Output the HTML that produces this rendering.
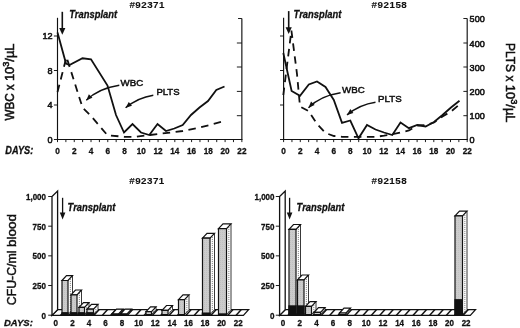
<!DOCTYPE html>
<html lang="en">
<head>
<meta charset="utf-8">
<title>Figure</title>
<style>
html,body{margin:0;padding:0;background:#fff;}
body{width:520px;height:328px;overflow:hidden;}
svg{display:block;}
svg text{font-family:'Liberation Sans', sans-serif;fill:#111;}
</style>
</head>
<body>
<svg width="520" height="328" viewBox="0 0 520 328">
<defs>
<pattern id="front" width="2" height="2" patternUnits="userSpaceOnUse"><rect width="2" height="2" fill="#cccccc"/><rect width="1" height="1" fill="#c0c0c0"/></pattern>
<pattern id="side" width="2" height="2" patternUnits="userSpaceOnUse"><rect width="2" height="2" fill="#fff"/><rect x="0.5" y="0" width="0.8" height="1" fill="#aaa"/></pattern>
</defs>
<rect width="520" height="328" fill="#fff"/>
<text x="129.4" y="8.1" font-size="9.8" text-anchor="start" font-weight="bold" textLength="35.0" lengthAdjust="spacing" stroke="#111" stroke-width="0.1" >#92371</text>
<line x1="57.5" y1="17.8" x2="57.5" y2="139.5" stroke="#111" stroke-width="1.15" />
<line x1="56.9" y1="139.5" x2="242.46" y2="139.5" stroke="#111" stroke-width="1.15" />
<line x1="241.86" y1="18.5" x2="241.86" y2="139.5" stroke="#111" stroke-width="1.15" />
<line x1="53.9" y1="36" x2="57.5" y2="36" stroke="#111" stroke-width="0.95" />
<text x="52.5" y="39.3" font-size="9.1" text-anchor="end" stroke="#111" stroke-width="0.55" >12</text>
<line x1="53.9" y1="70.5" x2="57.5" y2="70.5" stroke="#111" stroke-width="0.95" />
<text x="52.5" y="73.8" font-size="9.1" text-anchor="end" stroke="#111" stroke-width="0.55" >8</text>
<line x1="53.9" y1="105" x2="57.5" y2="105" stroke="#111" stroke-width="0.95" />
<text x="52.5" y="108.3" font-size="9.1" text-anchor="end" stroke="#111" stroke-width="0.55" >4</text>
<line x1="53.9" y1="139.5" x2="57.5" y2="139.5" stroke="#111" stroke-width="0.95" />
<text x="52.5" y="142.8" font-size="9.1" text-anchor="end" stroke="#111" stroke-width="0.55" >0</text>
<line x1="238.06" y1="18.5" x2="241.86" y2="18.5" stroke="#111" stroke-width="0.95" />
<line x1="236.86" y1="43" x2="241.86" y2="43" stroke="#111" stroke-width="0.95" />
<line x1="236.86" y1="67" x2="241.86" y2="67" stroke="#111" stroke-width="0.95" />
<line x1="236.86" y1="91.4" x2="241.86" y2="91.4" stroke="#111" stroke-width="0.95" />
<line x1="236.86" y1="115.7" x2="241.86" y2="115.7" stroke="#111" stroke-width="0.95" />
<line x1="236.86" y1="139.5" x2="241.86" y2="139.5" stroke="#111" stroke-width="0.95" />
<line x1="57.5" y1="139.5" x2="57.5" y2="142.1" stroke="#111" stroke-width="0.95" />
<text x="57.5" y="153.5" font-size="9.3" text-anchor="middle" font-weight="bold" textLength="4.6" lengthAdjust="spacingAndGlyphs" stroke="#111" stroke-width="0.3" >0</text>
<line x1="65.88" y1="139.5" x2="65.88" y2="142.1" stroke="#111" stroke-width="0.95" />
<line x1="74.26" y1="139.5" x2="74.26" y2="142.1" stroke="#111" stroke-width="0.95" />
<text x="74.3" y="153.5" font-size="9.3" text-anchor="middle" font-weight="bold" textLength="4.6" lengthAdjust="spacingAndGlyphs" stroke="#111" stroke-width="0.3" >2</text>
<line x1="82.64" y1="139.5" x2="82.64" y2="142.1" stroke="#111" stroke-width="0.95" />
<line x1="91.02000000000001" y1="139.5" x2="91.02000000000001" y2="142.1" stroke="#111" stroke-width="0.95" />
<text x="91.0" y="153.5" font-size="9.3" text-anchor="middle" font-weight="bold" textLength="4.6" lengthAdjust="spacingAndGlyphs" stroke="#111" stroke-width="0.3" >4</text>
<line x1="99.4" y1="139.5" x2="99.4" y2="142.1" stroke="#111" stroke-width="0.95" />
<line x1="107.78" y1="139.5" x2="107.78" y2="142.1" stroke="#111" stroke-width="0.95" />
<text x="107.8" y="153.5" font-size="9.3" text-anchor="middle" font-weight="bold" textLength="4.6" lengthAdjust="spacingAndGlyphs" stroke="#111" stroke-width="0.3" >6</text>
<line x1="116.16" y1="139.5" x2="116.16" y2="142.1" stroke="#111" stroke-width="0.95" />
<line x1="124.54" y1="139.5" x2="124.54" y2="142.1" stroke="#111" stroke-width="0.95" />
<text x="124.5" y="153.5" font-size="9.3" text-anchor="middle" font-weight="bold" textLength="4.6" lengthAdjust="spacingAndGlyphs" stroke="#111" stroke-width="0.3" >8</text>
<line x1="132.92000000000002" y1="139.5" x2="132.92000000000002" y2="142.1" stroke="#111" stroke-width="0.95" />
<line x1="141.3" y1="139.5" x2="141.3" y2="142.1" stroke="#111" stroke-width="0.95" />
<text x="141.3" y="153.5" font-size="9.3" text-anchor="middle" font-weight="bold" textLength="9.1" lengthAdjust="spacingAndGlyphs" stroke="#111" stroke-width="0.3" >10</text>
<line x1="149.68" y1="139.5" x2="149.68" y2="142.1" stroke="#111" stroke-width="0.95" />
<line x1="158.06" y1="139.5" x2="158.06" y2="142.1" stroke="#111" stroke-width="0.95" />
<text x="158.1" y="153.5" font-size="9.3" text-anchor="middle" font-weight="bold" textLength="9.1" lengthAdjust="spacingAndGlyphs" stroke="#111" stroke-width="0.3" >12</text>
<line x1="166.44" y1="139.5" x2="166.44" y2="142.1" stroke="#111" stroke-width="0.95" />
<line x1="174.82" y1="139.5" x2="174.82" y2="142.1" stroke="#111" stroke-width="0.95" />
<text x="174.8" y="153.5" font-size="9.3" text-anchor="middle" font-weight="bold" textLength="9.1" lengthAdjust="spacingAndGlyphs" stroke="#111" stroke-width="0.3" >14</text>
<line x1="183.20000000000002" y1="139.5" x2="183.20000000000002" y2="142.1" stroke="#111" stroke-width="0.95" />
<line x1="191.58" y1="139.5" x2="191.58" y2="142.1" stroke="#111" stroke-width="0.95" />
<text x="191.6" y="153.5" font-size="9.3" text-anchor="middle" font-weight="bold" textLength="9.1" lengthAdjust="spacingAndGlyphs" stroke="#111" stroke-width="0.3" >16</text>
<line x1="199.96" y1="139.5" x2="199.96" y2="142.1" stroke="#111" stroke-width="0.95" />
<line x1="208.34" y1="139.5" x2="208.34" y2="142.1" stroke="#111" stroke-width="0.95" />
<text x="208.3" y="153.5" font-size="9.3" text-anchor="middle" font-weight="bold" textLength="9.1" lengthAdjust="spacingAndGlyphs" stroke="#111" stroke-width="0.3" >18</text>
<line x1="216.72000000000003" y1="139.5" x2="216.72000000000003" y2="142.1" stroke="#111" stroke-width="0.95" />
<line x1="225.10000000000002" y1="139.5" x2="225.10000000000002" y2="142.1" stroke="#111" stroke-width="0.95" />
<text x="225.1" y="153.5" font-size="9.3" text-anchor="middle" font-weight="bold" textLength="9.1" lengthAdjust="spacingAndGlyphs" stroke="#111" stroke-width="0.3" >20</text>
<line x1="233.48000000000002" y1="139.5" x2="233.48000000000002" y2="142.1" stroke="#111" stroke-width="0.95" />
<line x1="241.86" y1="139.5" x2="241.86" y2="142.1" stroke="#111" stroke-width="0.95" />
<text x="241.9" y="153.5" font-size="9.3" text-anchor="middle" font-weight="bold" textLength="9.1" lengthAdjust="spacingAndGlyphs" stroke="#111" stroke-width="0.3" >22</text>
<text x="5.3" y="153.6" font-size="10.3" text-anchor="start" font-weight="bold" font-style="italic" textLength="27.9" lengthAdjust="spacingAndGlyphs" stroke="#111" stroke-width="0.3" >DAYS:</text>
<polyline points="57.5,92 66.5,57 82.5,107.5 91,116 107.5,135.3 124.5,136.8 133,137 150,135 182.7,131 200,127.5 224.5,121" fill="none" stroke="#111" stroke-width="1.8" stroke-linejoin="miter" stroke-dasharray="7.5 5.5"/>
<polyline points="57.5,32.5 66,63.5 69.5,65 82.5,58.3 91,59.3 107.5,85.5 116,115 124,132.5 132.5,124 141,132.5 149.3,135 157.5,124 166,131 174.3,128.5 182.7,125 191,115 199.5,107.5 208,101 216.3,90 224.5,86.5" fill="none" stroke="#111" stroke-width="1.8" stroke-linejoin="miter"/>
<line x1="62.3" y1="11.8" x2="62.3" y2="28.999999999999996" stroke="#111" stroke-width="1.6" />
<polygon points="59.199999999999996,27.999999999999996 65.39999999999999,27.999999999999996 62.3,34.8" fill="#111"/>
<text x="69.3" y="17.9" font-size="11" text-anchor="start" font-weight="bold" font-style="italic" textLength="47.8" lengthAdjust="spacingAndGlyphs" stroke="#111" stroke-width="0.3" >Transplant</text>
<text x="120.6" y="86.10000000000001" font-size="9.8" text-anchor="start" textLength="22.599999999999998" lengthAdjust="spacingAndGlyphs" stroke="#111" stroke-width="0.5" >WBC</text>
<text x="156.4" y="95.0" font-size="9.8" text-anchor="start" textLength="23.2" lengthAdjust="spacingAndGlyphs" stroke="#111" stroke-width="0.5" >PLTS</text>
<path d="M119.3,85.2 Q98,88.5 86.3,100.3" fill="none" stroke="#111" stroke-width="1.4"/>
<polygon points="86.30,100.30 88.89,94.14 92.44,97.66" fill="#111"/>
<path d="M153.3,95.2 Q138,97.5 125.6,107.8" fill="none" stroke="#111" stroke-width="1.4"/>
<polygon points="125.60,107.80 128.77,101.92 131.97,105.76" fill="#111"/>
<text x="371.6" y="8.1" font-size="9.8" text-anchor="start" font-weight="bold" textLength="35.2" lengthAdjust="spacing" stroke="#111" stroke-width="0.1" >#92158</text>
<line x1="283.6" y1="17.8" x2="283.6" y2="139.5" stroke="#111" stroke-width="1.15" />
<line x1="283.0" y1="139.5" x2="467.7900000000001" y2="139.5" stroke="#111" stroke-width="1.15" />
<line x1="467.19000000000005" y1="18.5" x2="467.19000000000005" y2="139.5" stroke="#111" stroke-width="1.15" />
<line x1="280.0" y1="36" x2="283.6" y2="36" stroke="#111" stroke-width="0.95" />
<line x1="280.0" y1="70.5" x2="283.6" y2="70.5" stroke="#111" stroke-width="0.95" />
<line x1="280.0" y1="105" x2="283.6" y2="105" stroke="#111" stroke-width="0.95" />
<line x1="280.0" y1="139.5" x2="283.6" y2="139.5" stroke="#111" stroke-width="0.95" />
<line x1="463.39000000000004" y1="18.5" x2="467.19000000000005" y2="18.5" stroke="#111" stroke-width="0.95" />
<text x="469.59000000000003" y="22.2" font-size="9.1" text-anchor="start" stroke="#111" stroke-width="0.55" >500</text>
<line x1="463.39000000000004" y1="43" x2="467.19000000000005" y2="43" stroke="#111" stroke-width="0.95" />
<text x="469.59000000000003" y="46.7" font-size="9.1" text-anchor="start" stroke="#111" stroke-width="0.55" >400</text>
<line x1="463.39000000000004" y1="67" x2="467.19000000000005" y2="67" stroke="#111" stroke-width="0.95" />
<text x="469.59000000000003" y="70.7" font-size="9.1" text-anchor="start" stroke="#111" stroke-width="0.55" >300</text>
<line x1="463.39000000000004" y1="91.4" x2="467.19000000000005" y2="91.4" stroke="#111" stroke-width="0.95" />
<text x="469.59000000000003" y="95.10000000000001" font-size="9.1" text-anchor="start" stroke="#111" stroke-width="0.55" >200</text>
<line x1="463.39000000000004" y1="115.7" x2="467.19000000000005" y2="115.7" stroke="#111" stroke-width="0.95" />
<text x="469.59000000000003" y="119.4" font-size="9.1" text-anchor="start" stroke="#111" stroke-width="0.55" >100</text>
<line x1="463.39000000000004" y1="139.5" x2="467.19000000000005" y2="139.5" stroke="#111" stroke-width="0.95" />
<text x="469.59000000000003" y="143.2" font-size="9.1" text-anchor="start" stroke="#111" stroke-width="0.55" >0</text>
<line x1="283.6" y1="139.5" x2="283.6" y2="142.1" stroke="#111" stroke-width="0.95" />
<text x="283.6" y="153.5" font-size="9.3" text-anchor="middle" font-weight="bold" textLength="4.6" lengthAdjust="spacingAndGlyphs" stroke="#111" stroke-width="0.3" >0</text>
<line x1="291.94500000000005" y1="139.5" x2="291.94500000000005" y2="142.1" stroke="#111" stroke-width="0.95" />
<line x1="300.29" y1="139.5" x2="300.29" y2="142.1" stroke="#111" stroke-width="0.95" />
<text x="300.3" y="153.5" font-size="9.3" text-anchor="middle" font-weight="bold" textLength="4.6" lengthAdjust="spacingAndGlyphs" stroke="#111" stroke-width="0.3" >2</text>
<line x1="308.63500000000005" y1="139.5" x2="308.63500000000005" y2="142.1" stroke="#111" stroke-width="0.95" />
<line x1="316.98" y1="139.5" x2="316.98" y2="142.1" stroke="#111" stroke-width="0.95" />
<text x="317.0" y="153.5" font-size="9.3" text-anchor="middle" font-weight="bold" textLength="4.6" lengthAdjust="spacingAndGlyphs" stroke="#111" stroke-width="0.3" >4</text>
<line x1="325.32500000000005" y1="139.5" x2="325.32500000000005" y2="142.1" stroke="#111" stroke-width="0.95" />
<line x1="333.67" y1="139.5" x2="333.67" y2="142.1" stroke="#111" stroke-width="0.95" />
<text x="333.7" y="153.5" font-size="9.3" text-anchor="middle" font-weight="bold" textLength="4.6" lengthAdjust="spacingAndGlyphs" stroke="#111" stroke-width="0.3" >6</text>
<line x1="342.01500000000004" y1="139.5" x2="342.01500000000004" y2="142.1" stroke="#111" stroke-width="0.95" />
<line x1="350.36" y1="139.5" x2="350.36" y2="142.1" stroke="#111" stroke-width="0.95" />
<text x="350.4" y="153.5" font-size="9.3" text-anchor="middle" font-weight="bold" textLength="4.6" lengthAdjust="spacingAndGlyphs" stroke="#111" stroke-width="0.3" >8</text>
<line x1="358.70500000000004" y1="139.5" x2="358.70500000000004" y2="142.1" stroke="#111" stroke-width="0.95" />
<line x1="367.05" y1="139.5" x2="367.05" y2="142.1" stroke="#111" stroke-width="0.95" />
<text x="367.1" y="153.5" font-size="9.3" text-anchor="middle" font-weight="bold" textLength="9.1" lengthAdjust="spacingAndGlyphs" stroke="#111" stroke-width="0.3" >10</text>
<line x1="375.39500000000004" y1="139.5" x2="375.39500000000004" y2="142.1" stroke="#111" stroke-width="0.95" />
<line x1="383.74" y1="139.5" x2="383.74" y2="142.1" stroke="#111" stroke-width="0.95" />
<text x="383.7" y="153.5" font-size="9.3" text-anchor="middle" font-weight="bold" textLength="9.1" lengthAdjust="spacingAndGlyphs" stroke="#111" stroke-width="0.3" >12</text>
<line x1="392.08500000000004" y1="139.5" x2="392.08500000000004" y2="142.1" stroke="#111" stroke-width="0.95" />
<line x1="400.43000000000006" y1="139.5" x2="400.43000000000006" y2="142.1" stroke="#111" stroke-width="0.95" />
<text x="400.4" y="153.5" font-size="9.3" text-anchor="middle" font-weight="bold" textLength="9.1" lengthAdjust="spacingAndGlyphs" stroke="#111" stroke-width="0.3" >14</text>
<line x1="408.77500000000003" y1="139.5" x2="408.77500000000003" y2="142.1" stroke="#111" stroke-width="0.95" />
<line x1="417.12" y1="139.5" x2="417.12" y2="142.1" stroke="#111" stroke-width="0.95" />
<text x="417.1" y="153.5" font-size="9.3" text-anchor="middle" font-weight="bold" textLength="9.1" lengthAdjust="spacingAndGlyphs" stroke="#111" stroke-width="0.3" >16</text>
<line x1="425.46500000000003" y1="139.5" x2="425.46500000000003" y2="142.1" stroke="#111" stroke-width="0.95" />
<line x1="433.81000000000006" y1="139.5" x2="433.81000000000006" y2="142.1" stroke="#111" stroke-width="0.95" />
<text x="433.8" y="153.5" font-size="9.3" text-anchor="middle" font-weight="bold" textLength="9.1" lengthAdjust="spacingAndGlyphs" stroke="#111" stroke-width="0.3" >18</text>
<line x1="442.15500000000003" y1="139.5" x2="442.15500000000003" y2="142.1" stroke="#111" stroke-width="0.95" />
<line x1="450.5" y1="139.5" x2="450.5" y2="142.1" stroke="#111" stroke-width="0.95" />
<text x="450.5" y="153.5" font-size="9.3" text-anchor="middle" font-weight="bold" textLength="9.1" lengthAdjust="spacingAndGlyphs" stroke="#111" stroke-width="0.3" >20</text>
<line x1="458.845" y1="139.5" x2="458.845" y2="142.1" stroke="#111" stroke-width="0.95" />
<line x1="467.19000000000005" y1="139.5" x2="467.19000000000005" y2="142.1" stroke="#111" stroke-width="0.95" />
<text x="467.2" y="153.5" font-size="9.3" text-anchor="middle" font-weight="bold" textLength="9.1" lengthAdjust="spacingAndGlyphs" stroke="#111" stroke-width="0.3" >22</text>
<polyline points="283.3,95 291.4,30.5 297,74 300,106.5 308.5,111 317,124 325.5,133 334,136 342,136.8 350,137 375.5,136.8 384,135.7 392.5,134.2 409,130.5 417.3,125.5 425.6,125 434,122.5 442.5,116.5 451,111.5 459.5,104.5" fill="none" stroke="#111" stroke-width="1.8" stroke-linejoin="miter" stroke-dasharray="7.5 5.5"/>
<polyline points="283.3,53 291.6,91 300,95.8 308.8,84.5 317,81.5 325.5,87 333.8,100 342,122.8 350.3,120.5 358.5,138.3 367,125 375.5,129.5 384,132.5 392.3,135 400.5,122.6 408.9,128.2 417.3,125 425.6,126.5 434,122 442.5,115 451,107.5 459.5,100.8" fill="none" stroke="#111" stroke-width="1.8" stroke-linejoin="miter"/>
<line x1="288.7" y1="11.1" x2="288.7" y2="28.3" stroke="#111" stroke-width="1.6" />
<polygon points="285.59999999999997,27.3 291.8,27.3 288.7,34.1" fill="#111"/>
<text x="293.6" y="17.9" font-size="11" text-anchor="start" font-weight="bold" font-style="italic" textLength="47.8" lengthAdjust="spacingAndGlyphs" stroke="#111" stroke-width="0.3" >Transplant</text>
<text x="342.1" y="93.3" font-size="9.8" text-anchor="start" textLength="22.599999999999998" lengthAdjust="spacingAndGlyphs" stroke="#111" stroke-width="0.5" >WBC</text>
<text x="378.1" y="102.2" font-size="9.8" text-anchor="start" textLength="23.599999999999998" lengthAdjust="spacingAndGlyphs" stroke="#111" stroke-width="0.5" >PLTS</text>
<path d="M340.6,92.8 Q320,96 308.5,107.8" fill="none" stroke="#111" stroke-width="1.4"/>
<polygon points="308.50,107.80 311.04,101.61 314.62,105.10" fill="#111"/>
<path d="M375.5,102.3 Q360,104.5 347,114.9" fill="none" stroke="#111" stroke-width="1.4"/>
<polygon points="347.00,114.90 350.28,109.07 353.40,112.98" fill="#111"/>
<text x="13.9" y="120.6" font-size="12.6" text-anchor="start" textLength="36.3" lengthAdjust="spacingAndGlyphs" transform="rotate(-90 13.9 120.6)" stroke="#111" stroke-width="0.55" >WBC x</text>
<text x="13.9" y="81.1" font-size="12.6" text-anchor="start" textLength="37.6" lengthAdjust="spacingAndGlyphs" transform="rotate(-90 13.9 81.1)" stroke="#111" stroke-width="0.55" >10<tspan font-size="9" dy="-4.4">3</tspan><tspan dy="4.4">/µL</tspan></text>
<text x="506.1" y="43.0" font-size="12.6" text-anchor="start" textLength="38.4" lengthAdjust="spacingAndGlyphs" transform="rotate(90 506.1 43.0)" stroke="#111" stroke-width="0.55" >PLTS x</text>
<text x="506.1" y="84.8" font-size="12.6" text-anchor="start" textLength="37.7" lengthAdjust="spacingAndGlyphs" transform="rotate(90 506.1 84.8)" stroke="#111" stroke-width="0.55" >10<tspan font-size="9" dy="-4.4">3</tspan><tspan dy="4.4">/µL</tspan></text>
<text x="129.3" y="183.5" font-size="9.8" text-anchor="start" font-weight="bold" textLength="35.0" lengthAdjust="spacing" stroke="#111" stroke-width="0.1" >#92371</text>
<polygon points="52,315.4 243.4,315.4 248.6,309.7 57.6,309.7" fill="#fff" stroke="#111" stroke-width="1.25"/>
<polygon points="59.4,315.4 61.4,315.4 66.6,309.7 64.6,309.7" fill="#111"/>
<polygon points="67.7,315.4 69.7,315.4 74.9,309.7 72.9,309.7" fill="#111"/>
<polygon points="76.1,315.4 78.1,315.4 83.3,309.7 81.3,309.7" fill="#111"/>
<polygon points="84.4,315.4 86.4,315.4 91.6,309.7 89.6,309.7" fill="#111"/>
<polygon points="92.8,315.4 94.8,315.4 100.0,309.7 98.0,309.7" fill="#111"/>
<polygon points="101.2,315.4 103.2,315.4 108.4,309.7 106.4,309.7" fill="#111"/>
<polygon points="109.5,315.4 111.5,315.4 116.7,309.7 114.7,309.7" fill="#111"/>
<polygon points="117.9,315.4 119.9,315.4 125.1,309.7 123.1,309.7" fill="#111"/>
<polygon points="126.2,315.4 128.2,315.4 133.4,309.7 131.4,309.7" fill="#111"/>
<polygon points="134.6,315.4 136.6,315.4 141.8,309.7 139.8,309.7" fill="#111"/>
<polygon points="143.0,315.4 145.0,315.4 150.2,309.7 148.2,309.7" fill="#111"/>
<polygon points="151.3,315.4 153.3,315.4 158.5,309.7 156.5,309.7" fill="#111"/>
<polygon points="159.7,315.4 161.7,315.4 166.9,309.7 164.9,309.7" fill="#111"/>
<polygon points="168.0,315.4 170.0,315.4 175.2,309.7 173.2,309.7" fill="#111"/>
<polygon points="176.4,315.4 178.4,315.4 183.6,309.7 181.6,309.7" fill="#111"/>
<polygon points="184.8,315.4 186.8,315.4 192.0,309.7 190.0,309.7" fill="#111"/>
<polygon points="193.1,315.4 195.1,315.4 200.3,309.7 198.3,309.7" fill="#111"/>
<polygon points="201.5,315.4 203.5,315.4 208.7,309.7 206.7,309.7" fill="#111"/>
<polygon points="209.8,315.4 211.8,315.4 217.0,309.7 215.0,309.7" fill="#111"/>
<polygon points="218.2,315.4 220.2,315.4 225.4,309.7 223.4,309.7" fill="#111"/>
<polygon points="226.6,315.4 228.6,315.4 233.8,309.7 231.8,309.7" fill="#111"/>
<polygon points="234.9,315.4 236.9,315.4 242.1,309.7 240.1,309.7" fill="#111"/>
<polygon points="52,315.4 57.6,309.7 57.6,191.0 52,196.6" fill="#fff" stroke="#111" stroke-width="1.3"/>
<line x1="48.2" y1="196.5" x2="52" y2="196.5" stroke="#111" stroke-width="0.95" />
<text x="46" y="200.0" font-size="9.2" text-anchor="end" font-weight="bold" textLength="20.0" lengthAdjust="spacingAndGlyphs" stroke="#111" stroke-width="0.3" >1,000</text>
<line x1="48.2" y1="226.175" x2="52" y2="226.175" stroke="#111" stroke-width="0.95" />
<text x="46" y="229.675" font-size="9.2" text-anchor="end" font-weight="bold" textLength="13.4" lengthAdjust="spacingAndGlyphs" stroke="#111" stroke-width="0.3" >750</text>
<line x1="48.2" y1="255.85" x2="52" y2="255.85" stroke="#111" stroke-width="0.95" />
<text x="46" y="259.35" font-size="9.2" text-anchor="end" font-weight="bold" textLength="13.4" lengthAdjust="spacingAndGlyphs" stroke="#111" stroke-width="0.3" >500</text>
<line x1="48.2" y1="285.525" x2="52" y2="285.525" stroke="#111" stroke-width="0.95" />
<text x="46" y="289.025" font-size="9.2" text-anchor="end" font-weight="bold" textLength="13.4" lengthAdjust="spacingAndGlyphs" stroke="#111" stroke-width="0.3" >250</text>
<line x1="48.2" y1="315.2" x2="52" y2="315.2" stroke="#111" stroke-width="0.95" />
<text x="46" y="318.7" font-size="9.2" text-anchor="end" font-weight="bold" textLength="4.5" lengthAdjust="spacingAndGlyphs" stroke="#111" stroke-width="0.3" >0</text>
<text x="55.8" y="325.7" font-size="9.2" text-anchor="middle" font-weight="bold" textLength="4.5" lengthAdjust="spacingAndGlyphs" stroke="#111" stroke-width="0.3" >0</text>
<text x="72.4" y="325.7" font-size="9.2" text-anchor="middle" font-weight="bold" textLength="4.5" lengthAdjust="spacingAndGlyphs" stroke="#111" stroke-width="0.3" >2</text>
<text x="89.0" y="325.7" font-size="9.2" text-anchor="middle" font-weight="bold" textLength="4.5" lengthAdjust="spacingAndGlyphs" stroke="#111" stroke-width="0.3" >4</text>
<text x="105.5" y="325.7" font-size="9.2" text-anchor="middle" font-weight="bold" textLength="4.5" lengthAdjust="spacingAndGlyphs" stroke="#111" stroke-width="0.3" >6</text>
<text x="122.1" y="325.7" font-size="9.2" text-anchor="middle" font-weight="bold" textLength="4.5" lengthAdjust="spacingAndGlyphs" stroke="#111" stroke-width="0.3" >8</text>
<text x="138.7" y="325.7" font-size="9.2" text-anchor="middle" font-weight="bold" textLength="8.9" lengthAdjust="spacingAndGlyphs" stroke="#111" stroke-width="0.3" >10</text>
<text x="155.3" y="325.7" font-size="9.2" text-anchor="middle" font-weight="bold" textLength="8.9" lengthAdjust="spacingAndGlyphs" stroke="#111" stroke-width="0.3" >12</text>
<text x="171.9" y="325.7" font-size="9.2" text-anchor="middle" font-weight="bold" textLength="8.9" lengthAdjust="spacingAndGlyphs" stroke="#111" stroke-width="0.3" >14</text>
<text x="188.4" y="325.7" font-size="9.2" text-anchor="middle" font-weight="bold" textLength="8.9" lengthAdjust="spacingAndGlyphs" stroke="#111" stroke-width="0.3" >16</text>
<text x="205.0" y="325.7" font-size="9.2" text-anchor="middle" font-weight="bold" textLength="8.9" lengthAdjust="spacingAndGlyphs" stroke="#111" stroke-width="0.3" >18</text>
<text x="221.6" y="325.7" font-size="9.2" text-anchor="middle" font-weight="bold" textLength="8.9" lengthAdjust="spacingAndGlyphs" stroke="#111" stroke-width="0.3" >20</text>
<text x="238.2" y="325.7" font-size="9.2" text-anchor="middle" font-weight="bold" textLength="8.9" lengthAdjust="spacingAndGlyphs" stroke="#111" stroke-width="0.3" >22</text>
<text x="4.0" y="325.7" font-size="9.4" text-anchor="start" font-weight="bold" font-style="italic" textLength="28.8" lengthAdjust="spacingAndGlyphs" stroke="#111" stroke-width="0.3" >DAYS:</text>
<polygon points="68.0,314.5 72.50,309.7 72.50,275.7 68.0,280.5" fill="#fff"/>
<line x1="70.34" y1="312.1" x2="70.34" y2="278.1" stroke="#777" stroke-width="1" stroke-dasharray="1 1"/>
<line x1="72.50" y1="309.7" x2="72.50" y2="275.7" stroke="#222" stroke-width="0.9"/>
<line x1="68.0" y1="314.5" x2="72.50" y2="309.7" stroke="#222" stroke-width="0.9"/>
<polygon points="62.0,280.5 68.0,280.5 72.50,275.7 66.50,275.7" fill="#fff" stroke="#111" stroke-width="1.2" stroke-linejoin="miter"/>
<polygon points="62.0,314.5 68.0,314.5 68.0,280.5 62.0,280.5" fill="url(#front)" stroke="#111" stroke-width="1.2" stroke-linejoin="miter"/>
<rect x="61.5" y="312.1" width="7.20" height="3.0" fill="#111"/>
<polygon points="77.0,314.5 81.50,309.7 81.50,290.0 77.0,294.8" fill="#fff"/>
<line x1="79.34" y1="312.1" x2="79.34" y2="292.4" stroke="#777" stroke-width="1" stroke-dasharray="1 1"/>
<line x1="81.50" y1="309.7" x2="81.50" y2="290.0" stroke="#222" stroke-width="0.9"/>
<line x1="77.0" y1="314.5" x2="81.50" y2="309.7" stroke="#222" stroke-width="0.9"/>
<polygon points="71.0,294.8 77.0,294.8 81.50,290.0 75.50,290.0" fill="#fff" stroke="#111" stroke-width="1.2" stroke-linejoin="miter"/>
<polygon points="71.0,314.5 77.0,314.5 77.0,294.8 71.0,294.8" fill="url(#front)" stroke="#111" stroke-width="1.2" stroke-linejoin="miter"/>
<rect x="70.3" y="312.1" width="7.20" height="3.0" fill="#111"/>
<polygon points="84.5,314.5 89.00,309.7 89.00,302.6 84.5,307.4" fill="#fff"/>
<line x1="86.84" y1="312.1" x2="86.84" y2="305.0" stroke="#777" stroke-width="1" stroke-dasharray="1 1"/>
<line x1="89.00" y1="309.7" x2="89.00" y2="302.6" stroke="#222" stroke-width="0.9"/>
<line x1="84.5" y1="314.5" x2="89.00" y2="309.7" stroke="#222" stroke-width="0.9"/>
<polygon points="79.0,307.4 84.5,307.4 89.00,302.6 83.50,302.6" fill="#fff" stroke="#111" stroke-width="1.2" stroke-linejoin="miter"/>
<polygon points="79.0,314.5 84.5,314.5 84.5,307.4 79.0,307.4" fill="url(#front)" stroke="#111" stroke-width="1.2" stroke-linejoin="miter"/>
<rect x="78.3" y="312.1" width="7.00" height="3.0" fill="#111"/>
<polygon points="93.5,314.5 98.00,309.7 98.00,304.4 93.5,309.2" fill="#fff"/>
<line x1="95.84" y1="312.1" x2="95.84" y2="306.8" stroke="#777" stroke-width="1" stroke-dasharray="1 1"/>
<line x1="98.00" y1="309.7" x2="98.00" y2="304.4" stroke="#222" stroke-width="0.9"/>
<line x1="93.5" y1="314.5" x2="98.00" y2="309.7" stroke="#222" stroke-width="0.9"/>
<polygon points="87.0,309.2 93.5,309.2 98.00,304.4 91.50,304.4" fill="#fff" stroke="#111" stroke-width="1.2" stroke-linejoin="miter"/>
<polygon points="87.0,314.5 93.5,314.5 93.5,309.2 87.0,309.2" fill="url(#front)" stroke="#111" stroke-width="1.2" stroke-linejoin="miter"/>
<rect x="86.6" y="312.1" width="7.70" height="3.0" fill="#111"/>
<polygon points="118.5,314.5 123.00,309.7 123.00,309.2 118.5,314.0" fill="#fff"/>
<line x1="120.84" y1="312.1" x2="120.84" y2="311.6" stroke="#777" stroke-width="1" stroke-dasharray="1 1"/>
<line x1="123.00" y1="309.7" x2="123.00" y2="309.2" stroke="#222" stroke-width="0.9"/>
<line x1="118.5" y1="314.5" x2="123.00" y2="309.7" stroke="#222" stroke-width="0.9"/>
<polygon points="112.0,314.0 118.5,314.0 123.00,309.2 116.50,309.2" fill="#fff" stroke="#111" stroke-width="1.2" stroke-linejoin="miter"/>
<polygon points="112.0,314.5 118.5,314.5 118.5,314.0 112.0,314.0" fill="url(#front)" stroke="#111" stroke-width="1.2" stroke-linejoin="miter"/>
<polygon points="127.0,314.5 131.50,309.7 131.50,309.2 127.0,314.0" fill="#fff"/>
<line x1="129.34" y1="312.1" x2="129.34" y2="311.6" stroke="#777" stroke-width="1" stroke-dasharray="1 1"/>
<line x1="131.50" y1="309.7" x2="131.50" y2="309.2" stroke="#222" stroke-width="0.9"/>
<line x1="127.0" y1="314.5" x2="131.50" y2="309.7" stroke="#222" stroke-width="0.9"/>
<polygon points="120.5,314.0 127.0,314.0 131.50,309.2 125.00,309.2" fill="#fff" stroke="#111" stroke-width="1.2" stroke-linejoin="miter"/>
<polygon points="120.5,314.5 127.0,314.5 127.0,314.0 120.5,314.0" fill="url(#front)" stroke="#111" stroke-width="1.2" stroke-linejoin="miter"/>
<polygon points="151.5,314.5 156.00,309.7 156.00,306.8 151.5,311.6" fill="#fff"/>
<line x1="153.84" y1="312.1" x2="153.84" y2="309.2" stroke="#777" stroke-width="1" stroke-dasharray="1 1"/>
<line x1="156.00" y1="309.7" x2="156.00" y2="306.8" stroke="#222" stroke-width="0.9"/>
<line x1="151.5" y1="314.5" x2="156.00" y2="309.7" stroke="#222" stroke-width="0.9"/>
<polygon points="146.0,311.6 151.5,311.6 156.00,306.8 150.50,306.8" fill="#fff" stroke="#111" stroke-width="1.2" stroke-linejoin="miter"/>
<polygon points="146.0,314.5 151.5,314.5 151.5,311.6 146.0,311.6" fill="url(#front)" stroke="#111" stroke-width="1.2" stroke-linejoin="miter"/>
<polygon points="168.0,314.5 172.50,309.7 172.50,305.5 168.0,310.3" fill="#fff"/>
<line x1="170.34" y1="312.1" x2="170.34" y2="307.9" stroke="#777" stroke-width="1" stroke-dasharray="1 1"/>
<line x1="172.50" y1="309.7" x2="172.50" y2="305.5" stroke="#222" stroke-width="0.9"/>
<line x1="168.0" y1="314.5" x2="172.50" y2="309.7" stroke="#222" stroke-width="0.9"/>
<polygon points="162.0,310.3 168.0,310.3 172.50,305.5 166.50,305.5" fill="#fff" stroke="#111" stroke-width="1.2" stroke-linejoin="miter"/>
<polygon points="162.0,314.5 168.0,314.5 168.0,310.3 162.0,310.3" fill="url(#front)" stroke="#111" stroke-width="1.2" stroke-linejoin="miter"/>
<polygon points="184.5,314.5 189.00,309.7 189.00,294.9 184.5,299.7" fill="#fff"/>
<line x1="186.84" y1="312.1" x2="186.84" y2="297.3" stroke="#777" stroke-width="1" stroke-dasharray="1 1"/>
<line x1="189.00" y1="309.7" x2="189.00" y2="294.9" stroke="#222" stroke-width="0.9"/>
<line x1="184.5" y1="314.5" x2="189.00" y2="309.7" stroke="#222" stroke-width="0.9"/>
<polygon points="178.5,299.7 184.5,299.7 189.00,294.9 183.00,294.9" fill="#fff" stroke="#111" stroke-width="1.2" stroke-linejoin="miter"/>
<polygon points="178.5,314.5 184.5,314.5 184.5,299.7 178.5,299.7" fill="url(#front)" stroke="#111" stroke-width="1.2" stroke-linejoin="miter"/>
<polygon points="210.0,314.5 214.50,309.7 214.50,233.4 210.0,238.2" fill="#fff"/>
<line x1="212.34" y1="312.1" x2="212.34" y2="235.8" stroke="#777" stroke-width="1" stroke-dasharray="1 1"/>
<line x1="214.50" y1="309.7" x2="214.50" y2="233.4" stroke="#222" stroke-width="0.9"/>
<line x1="210.0" y1="314.5" x2="214.50" y2="309.7" stroke="#222" stroke-width="0.9"/>
<polygon points="202.5,238.2 210.0,238.2 214.50,233.4 207.00,233.4" fill="#fff" stroke="#111" stroke-width="1.2" stroke-linejoin="miter"/>
<polygon points="202.5,314.5 210.0,314.5 210.0,238.2 202.5,238.2" fill="url(#front)" stroke="#111" stroke-width="1.2" stroke-linejoin="miter"/>
<rect x="201.7" y="312.5" width="8.90" height="2.6" fill="#111"/>
<polygon points="226.5,314.5 231.00,309.7 231.00,223.8 226.5,228.6" fill="#fff"/>
<line x1="228.84" y1="312.1" x2="228.84" y2="226.2" stroke="#777" stroke-width="1" stroke-dasharray="1 1"/>
<line x1="231.00" y1="309.7" x2="231.00" y2="223.8" stroke="#222" stroke-width="0.9"/>
<line x1="226.5" y1="314.5" x2="231.00" y2="309.7" stroke="#222" stroke-width="0.9"/>
<polygon points="218.5,228.6 226.5,228.6 231.00,223.8 223.00,223.8" fill="#fff" stroke="#111" stroke-width="1.2" stroke-linejoin="miter"/>
<polygon points="218.5,314.5 226.5,314.5 226.5,228.6 218.5,228.6" fill="url(#front)" stroke="#111" stroke-width="1.2" stroke-linejoin="miter"/>
<rect x="218.1" y="313.3" width="8.90" height="1.8" fill="#111"/>
<line x1="62.6" y1="197.8" x2="62.6" y2="213.6" stroke="#111" stroke-width="1.3" />
<polygon points="59.800000000000004,212.6 65.4,212.6 62.6,219.4" fill="#111"/>
<text x="67.6" y="211.3" font-size="11" text-anchor="start" font-weight="bold" font-style="italic" textLength="47.8" lengthAdjust="spacingAndGlyphs" stroke="#111" stroke-width="0.3" >Transplant</text>
<text x="371.6" y="183.5" font-size="9.8" text-anchor="start" font-weight="bold" textLength="35.0" lengthAdjust="spacing" stroke="#111" stroke-width="0.1" >#92158</text>
<polygon points="279.6,315.4 470.3,315.4 475.5,309.7 285.20000000000005,309.7" fill="#fff" stroke="#111" stroke-width="1.25"/>
<polygon points="286.9,315.4 288.9,315.4 294.1,309.7 292.1,309.7" fill="#111"/>
<polygon points="295.3,315.4 297.3,315.4 302.5,309.7 300.5,309.7" fill="#111"/>
<polygon points="303.6,315.4 305.6,315.4 310.8,309.7 308.8,309.7" fill="#111"/>
<polygon points="311.9,315.4 313.9,315.4 319.1,309.7 317.1,309.7" fill="#111"/>
<polygon points="320.2,315.4 322.2,315.4 327.4,309.7 325.4,309.7" fill="#111"/>
<polygon points="328.6,315.4 330.6,315.4 335.8,309.7 333.8,309.7" fill="#111"/>
<polygon points="336.9,315.4 338.9,315.4 344.1,309.7 342.1,309.7" fill="#111"/>
<polygon points="345.2,315.4 347.2,315.4 352.4,309.7 350.4,309.7" fill="#111"/>
<polygon points="353.6,315.4 355.6,315.4 360.8,309.7 358.8,309.7" fill="#111"/>
<polygon points="361.9,315.4 363.9,315.4 369.1,309.7 367.1,309.7" fill="#111"/>
<polygon points="370.2,315.4 372.2,315.4 377.4,309.7 375.4,309.7" fill="#111"/>
<polygon points="378.6,315.4 380.6,315.4 385.8,309.7 383.8,309.7" fill="#111"/>
<polygon points="386.9,315.4 388.9,315.4 394.1,309.7 392.1,309.7" fill="#111"/>
<polygon points="395.2,315.4 397.2,315.4 402.4,309.7 400.4,309.7" fill="#111"/>
<polygon points="403.6,315.4 405.6,315.4 410.8,309.7 408.8,309.7" fill="#111"/>
<polygon points="411.9,315.4 413.9,315.4 419.1,309.7 417.1,309.7" fill="#111"/>
<polygon points="420.2,315.4 422.2,315.4 427.4,309.7 425.4,309.7" fill="#111"/>
<polygon points="428.5,315.4 430.5,315.4 435.7,309.7 433.7,309.7" fill="#111"/>
<polygon points="436.9,315.4 438.9,315.4 444.1,309.7 442.1,309.7" fill="#111"/>
<polygon points="445.2,315.4 447.2,315.4 452.4,309.7 450.4,309.7" fill="#111"/>
<polygon points="453.5,315.4 455.5,315.4 460.7,309.7 458.7,309.7" fill="#111"/>
<polygon points="461.9,315.4 463.9,315.4 469.1,309.7 467.1,309.7" fill="#111"/>
<polygon points="279.6,315.4 285.20000000000005,309.7 285.20000000000005,191.0 279.6,196.6" fill="#fff" stroke="#111" stroke-width="1.3"/>
<line x1="275.8" y1="196.5" x2="279.6" y2="196.5" stroke="#111" stroke-width="0.95" />
<text x="274.5" y="200.0" font-size="9.2" text-anchor="end" font-weight="bold" textLength="20.0" lengthAdjust="spacingAndGlyphs" stroke="#111" stroke-width="0.3" >1,000</text>
<line x1="275.8" y1="226.175" x2="279.6" y2="226.175" stroke="#111" stroke-width="0.95" />
<text x="274.5" y="229.675" font-size="9.2" text-anchor="end" font-weight="bold" textLength="13.4" lengthAdjust="spacingAndGlyphs" stroke="#111" stroke-width="0.3" >750</text>
<line x1="275.8" y1="255.85" x2="279.6" y2="255.85" stroke="#111" stroke-width="0.95" />
<text x="274.5" y="259.35" font-size="9.2" text-anchor="end" font-weight="bold" textLength="13.4" lengthAdjust="spacingAndGlyphs" stroke="#111" stroke-width="0.3" >500</text>
<line x1="275.8" y1="285.525" x2="279.6" y2="285.525" stroke="#111" stroke-width="0.95" />
<text x="274.5" y="289.025" font-size="9.2" text-anchor="end" font-weight="bold" textLength="13.4" lengthAdjust="spacingAndGlyphs" stroke="#111" stroke-width="0.3" >250</text>
<line x1="275.8" y1="315.2" x2="279.6" y2="315.2" stroke="#111" stroke-width="0.95" />
<text x="274.5" y="318.7" font-size="9.2" text-anchor="end" font-weight="bold" textLength="4.5" lengthAdjust="spacingAndGlyphs" stroke="#111" stroke-width="0.3" >0</text>
<text x="283.1" y="325.7" font-size="9.2" text-anchor="middle" font-weight="bold" textLength="4.5" lengthAdjust="spacingAndGlyphs" stroke="#111" stroke-width="0.3" >0</text>
<text x="299.7" y="325.7" font-size="9.2" text-anchor="middle" font-weight="bold" textLength="4.5" lengthAdjust="spacingAndGlyphs" stroke="#111" stroke-width="0.3" >2</text>
<text x="316.4" y="325.7" font-size="9.2" text-anchor="middle" font-weight="bold" textLength="4.5" lengthAdjust="spacingAndGlyphs" stroke="#111" stroke-width="0.3" >4</text>
<text x="333.0" y="325.7" font-size="9.2" text-anchor="middle" font-weight="bold" textLength="4.5" lengthAdjust="spacingAndGlyphs" stroke="#111" stroke-width="0.3" >6</text>
<text x="349.7" y="325.7" font-size="9.2" text-anchor="middle" font-weight="bold" textLength="4.5" lengthAdjust="spacingAndGlyphs" stroke="#111" stroke-width="0.3" >8</text>
<text x="366.3" y="325.7" font-size="9.2" text-anchor="middle" font-weight="bold" textLength="8.9" lengthAdjust="spacingAndGlyphs" stroke="#111" stroke-width="0.3" >10</text>
<text x="382.9" y="325.7" font-size="9.2" text-anchor="middle" font-weight="bold" textLength="8.9" lengthAdjust="spacingAndGlyphs" stroke="#111" stroke-width="0.3" >12</text>
<text x="399.6" y="325.7" font-size="9.2" text-anchor="middle" font-weight="bold" textLength="8.9" lengthAdjust="spacingAndGlyphs" stroke="#111" stroke-width="0.3" >14</text>
<text x="416.2" y="325.7" font-size="9.2" text-anchor="middle" font-weight="bold" textLength="8.9" lengthAdjust="spacingAndGlyphs" stroke="#111" stroke-width="0.3" >16</text>
<text x="432.9" y="325.7" font-size="9.2" text-anchor="middle" font-weight="bold" textLength="8.9" lengthAdjust="spacingAndGlyphs" stroke="#111" stroke-width="0.3" >18</text>
<text x="449.5" y="325.7" font-size="9.2" text-anchor="middle" font-weight="bold" textLength="8.9" lengthAdjust="spacingAndGlyphs" stroke="#111" stroke-width="0.3" >20</text>
<text x="466.1" y="325.7" font-size="9.2" text-anchor="middle" font-weight="bold" textLength="8.9" lengthAdjust="spacingAndGlyphs" stroke="#111" stroke-width="0.3" >22</text>
<polygon points="296.0,314.5 300.50,309.7 300.50,224.5 296.0,229.3" fill="#fff"/>
<line x1="298.34" y1="312.1" x2="298.34" y2="226.9" stroke="#777" stroke-width="1" stroke-dasharray="1 1"/>
<line x1="300.50" y1="309.7" x2="300.50" y2="224.5" stroke="#222" stroke-width="0.9"/>
<line x1="296.0" y1="314.5" x2="300.50" y2="309.7" stroke="#222" stroke-width="0.9"/>
<polygon points="289.0,229.3 296.0,229.3 300.50,224.5 293.50,224.5" fill="#fff" stroke="#111" stroke-width="1.2" stroke-linejoin="miter"/>
<polygon points="289.0,314.5 296.0,314.5 296.0,229.3 289.0,229.3" fill="url(#front)" stroke="#111" stroke-width="1.2" stroke-linejoin="miter"/>
<rect x="288.3" y="305.3" width="8.40" height="9.8" fill="#111"/>
<polygon points="304.0,314.5 308.50,309.7 308.50,275.0 304.0,279.8" fill="#fff"/>
<line x1="306.34" y1="312.1" x2="306.34" y2="277.4" stroke="#777" stroke-width="1" stroke-dasharray="1 1"/>
<line x1="308.50" y1="309.7" x2="308.50" y2="275.0" stroke="#222" stroke-width="0.9"/>
<line x1="304.0" y1="314.5" x2="308.50" y2="309.7" stroke="#222" stroke-width="0.9"/>
<polygon points="297.5,279.8 304.0,279.8 308.50,275.0 302.00,275.0" fill="#fff" stroke="#111" stroke-width="1.2" stroke-linejoin="miter"/>
<polygon points="297.5,314.5 304.0,314.5 304.0,279.8 297.5,279.8" fill="url(#front)" stroke="#111" stroke-width="1.2" stroke-linejoin="miter"/>
<rect x="296.8" y="305.3" width="7.70" height="9.8" fill="#111"/>
<polygon points="311.5,314.5 316.00,309.7 316.00,301.6 311.5,306.4" fill="#fff"/>
<line x1="313.84" y1="312.1" x2="313.84" y2="304.0" stroke="#777" stroke-width="1" stroke-dasharray="1 1"/>
<line x1="316.00" y1="309.7" x2="316.00" y2="301.6" stroke="#222" stroke-width="0.9"/>
<line x1="311.5" y1="314.5" x2="316.00" y2="309.7" stroke="#222" stroke-width="0.9"/>
<polygon points="305.5,306.4 311.5,306.4 316.00,301.6 310.00,301.6" fill="#fff" stroke="#111" stroke-width="1.2" stroke-linejoin="miter"/>
<polygon points="305.5,314.5 311.5,314.5 311.5,306.4 305.5,306.4" fill="url(#front)" stroke="#111" stroke-width="1.2" stroke-linejoin="miter"/>
<polygon points="320.5,314.5 325.00,309.7 325.00,307.6 320.5,312.4" fill="#fff"/>
<line x1="322.84" y1="312.1" x2="322.84" y2="310.0" stroke="#777" stroke-width="1" stroke-dasharray="1 1"/>
<line x1="325.00" y1="309.7" x2="325.00" y2="307.6" stroke="#222" stroke-width="0.9"/>
<line x1="320.5" y1="314.5" x2="325.00" y2="309.7" stroke="#222" stroke-width="0.9"/>
<polygon points="314.0,312.4 320.5,312.4 325.00,307.6 318.50,307.6" fill="#fff" stroke="#111" stroke-width="1.2" stroke-linejoin="miter"/>
<polygon points="314.0,314.5 320.5,314.5 320.5,312.4 314.0,312.4" fill="url(#front)" stroke="#111" stroke-width="1.2" stroke-linejoin="miter"/>
<polygon points="346.0,314.5 350.50,309.7 350.50,308.2 346.0,313" fill="#fff"/>
<line x1="348.34" y1="312.1" x2="348.34" y2="310.6" stroke="#777" stroke-width="1" stroke-dasharray="1 1"/>
<line x1="350.50" y1="309.7" x2="350.50" y2="308.2" stroke="#222" stroke-width="0.9"/>
<line x1="346.0" y1="314.5" x2="350.50" y2="309.7" stroke="#222" stroke-width="0.9"/>
<polygon points="339.5,313 346.0,313 350.50,308.2 344.00,308.2" fill="#fff" stroke="#111" stroke-width="1.2" stroke-linejoin="miter"/>
<polygon points="339.5,314.5 346.0,314.5 346.0,313 339.5,313" fill="url(#front)" stroke="#111" stroke-width="1.2" stroke-linejoin="miter"/>
<polygon points="462.5,314.5 467.00,309.7 467.00,211.1 462.5,215.9" fill="#fff"/>
<line x1="464.84" y1="312.1" x2="464.84" y2="213.5" stroke="#777" stroke-width="1" stroke-dasharray="1 1"/>
<line x1="467.00" y1="309.7" x2="467.00" y2="211.1" stroke="#222" stroke-width="0.9"/>
<line x1="462.5" y1="314.5" x2="467.00" y2="309.7" stroke="#222" stroke-width="0.9"/>
<polygon points="455.0,215.9 462.5,215.9 467.00,211.1 459.50,211.1" fill="#fff" stroke="#111" stroke-width="1.2" stroke-linejoin="miter"/>
<polygon points="455.0,314.5 462.5,314.5 462.5,215.9 455.0,215.9" fill="url(#front)" stroke="#111" stroke-width="1.2" stroke-linejoin="miter"/>
<rect x="454.4" y="299.1" width="8.50" height="16.0" fill="#111"/>
<line x1="289.6" y1="197.8" x2="289.6" y2="213.6" stroke="#111" stroke-width="1.3" />
<polygon points="286.8,212.6 292.40000000000003,212.6 289.6,219.4" fill="#111"/>
<text x="296.6" y="211.3" font-size="11" text-anchor="start" font-weight="bold" font-style="italic" textLength="47.8" lengthAdjust="spacingAndGlyphs" stroke="#111" stroke-width="0.3" >Transplant</text>
<text x="15.9" y="305.2" font-size="12.6" text-anchor="start" textLength="54.7" lengthAdjust="spacingAndGlyphs" transform="rotate(-90 15.9 305.2)" stroke="#111" stroke-width="0.45" >CFU-C/ml</text>
<text x="15.9" y="246.9" font-size="12.6" text-anchor="start" textLength="33" lengthAdjust="spacingAndGlyphs" transform="rotate(-90 15.9 246.9)" stroke="#111" stroke-width="0.45" >blood</text>
</svg>
</body>
</html>
